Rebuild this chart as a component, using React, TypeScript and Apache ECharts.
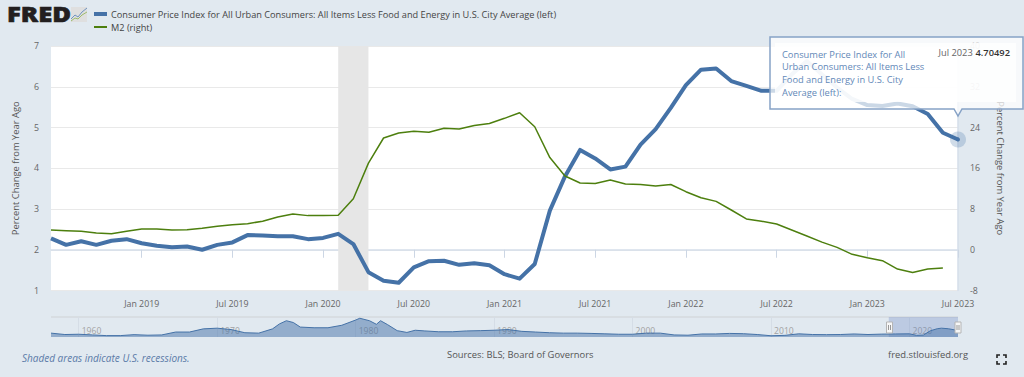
import React, { useEffect, useRef } from "react";
import * as echarts from "echarts";

const months = [
  "Jul 2018","Aug 2018","Sep 2018","Oct 2018","Nov 2018","Dec 2018",
  "Jan 2019","Feb 2019","Mar 2019","Apr 2019","May 2019","Jun 2019","Jul 2019","Aug 2019","Sep 2019","Oct 2019","Nov 2019","Dec 2019",
  "Jan 2020","Feb 2020","Mar 2020","Apr 2020","May 2020","Jun 2020","Jul 2020","Aug 2020","Sep 2020","Oct 2020","Nov 2020","Dec 2020",
  "Jan 2021","Feb 2021","Mar 2021","Apr 2021","May 2021","Jun 2021","Jul 2021","Aug 2021","Sep 2021","Oct 2021","Nov 2021","Dec 2021",
  "Jan 2022","Feb 2022","Mar 2022","Apr 2022","May 2022","Jun 2022","Jul 2022","Aug 2022","Sep 2022","Oct 2022","Nov 2022","Dec 2022",
  "Jan 2023","Feb 2023","Mar 2023","Apr 2023","May 2023","Jun 2023","Jul 2023",
];
const cpiValues = [
  2.28,2.12,2.21,2.12,2.22,2.26,
  2.16,2.10,2.06,2.08,2.00,2.12,2.18,2.36,2.35,2.33,2.33,2.26,
  2.29,2.39,2.14,1.45,1.24,1.19,1.57,1.72,1.73,1.63,1.67,1.62,
  1.40,1.29,1.65,2.96,3.80,4.45,4.24,3.97,4.04,4.58,4.96,5.48,
  6.04,6.42,6.45,6.14,6.02,5.90,5.90,6.30,6.63,6.30,5.98,5.70,
  5.55,5.53,5.59,5.52,5.33,4.87,4.70492,
];
const m2Values: (number | null)[] = [
  3.88,3.75,3.62,3.29,3.15,3.62,
  4.07,4.07,3.88,3.94,4.2,4.6,4.93,5.12,5.6,6.44,7.03,6.7,
  6.7,6.77,10.0,17.0,21.94,22.92,23.25,23.05,23.85,23.7,24.4,24.8,
  25.8,26.9,24.15,18.1,14.48,13.1,13.0,13.7,12.9,12.8,12.5,12.8,
  11.4,10.2,9.5,7.8,6.05,5.6,5.05,3.88,2.7,1.5,0.47,-0.9,
  -1.56,-2.15,-3.8,-4.45,-3.8,-3.6,null,
];
const navYears = [
  1958,1959,1960,1961,1962,1963,1964,1965,1966,1967,1968,1969,1970,1971,1972,1973,1974,1974.5,1975,1975.5,1976,1977,1978,1979,1980,1980.3,1981,1981.5,1981.8,1982.3,1983,1983.7,1984.3,1985,1986,1987,1988,1989,1990,
  1991,1992,1993,1994,1995,1996,1997,1998,1999,2000,2001,2002,2003,2004,2005,2006,2007,2008,2009,2010,2011,2012,2013,2014,2015,2016,2017,2018,2019,2020,2020.5,2021,2021.5,2022,2022.3,2022.8,2023.5,
];
const navValues = [
  2.8,1.8,2.0,1.5,1.0,1.0,1.7,1.3,1.5,3.6,3.6,5.9,6.4,5.4,3.1,2.8,5.9,9.5,11.8,10.5,7.2,6.7,6.7,8.5,12.3,13.6,11.8,9.2,11.8,9,4.6,3.3,4.9,4.4,3.8,3.8,4.4,4.6,4.9,
  5.4,4.1,3.6,3.1,2.8,2.8,2.6,2.3,2.0,2.0,2.8,2.8,1.5,1.3,2.2,2.2,2.6,2.4,1.8,0.9,1.2,2.3,1.8,1.7,1.8,2.2,1.8,2.1,2.2,2.3,1.2,1.4,4.5,6.0,6.4,6.0,4.7,
];
const navDecades = [1960, 1970, 1980, 1990, 2000, 2010, 2020];

const cpiName = "Consumer Price Index for All Urban Consumers: All Items Less Food and Energy in U.S. City Average (left)";
const m2Name = "M2 (right)";
const yAxisTitle = "Percent Change from Year Ago";
const tooltipSeries = "Consumer Price Index for All\nUrban Consumers: All Items Less\nFood and Energy in U.S. City\nAverage (left):";

const BG = "#e1e9f0";
const BLUE = "#4572a7";
const GREEN = "#4d7f0e";
const FONT = "'Open Sans', sans-serif";
const AXIS_TEXT = "#666666";

const handle = (x: number) => [
  { type: "rect", z: 50, shape: { x: x - 3, y: 322, width: 6, height: 11 }, style: { fill: "#f7f7f7", stroke: "#b5b5b5", lineWidth: 1 } },
  { type: "line", z: 51, shape: { x1: x - 1, y1: 325, x2: x - 1, y2: 330 }, style: { stroke: "#999", lineWidth: 1 } },
  { type: "line", z: 51, shape: { x1: x + 1, y1: 325, x2: x + 1, y2: 330 }, style: { stroke: "#999", lineWidth: 1 } },
];

const corner = (pts: number[][]) => ({ type: "polyline", z: 50, shape: { points: pts }, style: { stroke: "#222", lineWidth: 1.6, fill: "none" } });

export default function App() {
  const ref = useRef<HTMLDivElement>(null);
  useEffect(() => {
    const chart = echarts.init(ref.current!, undefined, { renderer: "svg" });
    const isTickMonth = (i: number, v: string) => i > 0 && (v.startsWith("Jan") || v.startsWith("Jul"));
    chart.setOption({
      animation: false,
      backgroundColor: BG,
      textStyle: { fontFamily: FONT },
      legend: [
        { data: [cpiName], left: 94, top: 9.5, itemWidth: 13, itemHeight: 4, icon: "rect", selectedMode: false, padding: 0,
          textStyle: { fontFamily: FONT, fontSize: 9.2, color: "#444", padding: [0, 0, 0, -1] } },
        { data: [m2Name], left: 94, top: 22.5, itemWidth: 13, itemHeight: 2, icon: "rect", selectedMode: false, padding: 0,
          textStyle: { fontFamily: FONT, fontSize: 9.2, color: "#444", padding: [0, 0, 0, -1] } },
      ],
      grid: [
        { left: 51, right: 66, top: 46, height: 244.5, show: true, backgroundColor: "#fff", borderWidth: 0 },
        { left: 51, right: 66, top: 317, height: 20, show: false },
      ],
      xAxis: [
        {
          type: "category", data: months, boundaryGap: false, gridIndex: 0,
          axisLine: { show: true, lineStyle: { color: "#d5deea", width: 1.5 } },
          axisTick: { show: true, length: 8, lineStyle: { color: "#ccd6e4" }, interval: isTickMonth },
          axisLabel: { interval: isTickMonth, color: AXIS_TEXT, fontSize: 8.8, margin: 9, fontFamily: FONT, hideOverlap: false },
          splitLine: { show: false },
        },
        {
          type: "value", gridIndex: 1, min: 1958, max: 2023.5, position: "bottom",
          axisLine: { show: false },
          axisTick: { show: true, inside: true, length: 20, customValues: navDecades, lineStyle: { color: "#d5dde6" } },
          axisLabel: { show: true, inside: true, margin: 2, customValues: navDecades, align: "left", padding: [0, 0, 0, 3],
            color: "#a3a3a3", fontSize: 8.6, fontFamily: FONT, formatter: (v: number) => String(v) },
          splitLine: { show: false },
        },
      ],
      yAxis: [
        {
          type: "value", min: 1, max: 7, interval: 1, gridIndex: 0,
          name: yAxisTitle, nameLocation: "middle", nameGap: 31, nameRotate: 90,
          nameTextStyle: { color: "#555", fontSize: 9.4, fontFamily: FONT },
          axisLine: { show: false }, axisTick: { show: false },
          axisLabel: { color: AXIS_TEXT, fontSize: 8.8, margin: 12, fontFamily: FONT },
          splitLine: { lineStyle: { color: "#e9e9e9", width: 1 } },
        },
        {
          type: "value", min: -8, max: 40, interval: 8, gridIndex: 0, position: "right",
          name: yAxisTitle, nameLocation: "middle", nameGap: 38, nameRotate: -90,
          nameTextStyle: { color: "#555", fontSize: 9.4, fontFamily: FONT },
          axisLine: { show: true, lineStyle: { color: "#d5deea", width: 1.5 } }, axisTick: { show: false },
          axisLabel: { color: AXIS_TEXT, fontSize: 8.8, margin: 12, fontFamily: FONT },
          splitLine: { show: false },
        },
        { type: "value", gridIndex: 1, min: 0, max: 14.5, show: false },
      ],
      series: [
        {
          name: cpiName, type: "line", data: cpiValues, xAxisIndex: 0, yAxisIndex: 0,
          showSymbol: false, symbol: "none", itemStyle: { color: BLUE },
          lineStyle: { color: BLUE, width: 4, join: "round" },
          markArea: { silent: true, z: 1, itemStyle: { color: "#e6e6e6" },
            data: [[{ xAxis: "Feb 2020" }, { xAxis: "Apr 2020" }]] },
          markPoint: {
            silent: true, label: { show: false },
            data: [
              { coord: [months[months.length - 1], cpiValues[cpiValues.length - 1]], symbol: "circle", symbolSize: 16, itemStyle: { color: BLUE, opacity: 0.25 } },
              { coord: [months[months.length - 1], cpiValues[cpiValues.length - 1]], symbol: "circle", symbolSize: 4, itemStyle: { color: BLUE } },
            ],
          },
        },
        {
          name: m2Name, type: "line", data: m2Values, xAxisIndex: 0, yAxisIndex: 1,
          showSymbol: false, symbol: "none", itemStyle: { color: GREEN },
          lineStyle: { color: GREEN, width: 1.5 },
        },
        {
          name: "nav", type: "line", data: navYears.map((y, i) => [y, navValues[i]]), xAxisIndex: 1, yAxisIndex: 2,
          showSymbol: false, symbol: "none", lineStyle: { color: BLUE, width: 1 },
          areaStyle: { color: BLUE, opacity: 0.5 },
          markArea: { silent: true, z: 1, itemStyle: { color: "rgba(102,133,194,0.3)" },
            data: [[{ xAxis: 2018.5 }, { xAxis: 2023.5 }]] },
        },
      ],
      graphic: [
        { type: "line", shape: { x1: 51, y1: 317, x2: 958, y2: 317 }, style: { stroke: "#cfd2d5", lineWidth: 1 } },
        ...handle(889.5),
        ...handle(958),
        // logo
        { type: "text", x: 7, y: 3.5, scaleX: 1.22, style: { text: "FRED", font: "800 21px 'Open Sans', sans-serif", fill: "#231f20", stroke: "#231f20", lineWidth: 0.6 } },
        { type: "rect", shape: { x: 71, y: 7, width: 16, height: 15 }, style: { fill: "#dfdfdf" } },
        { type: "polyline", shape: { points: [[71, 19], [75, 15], [78, 17], [82, 12], [87, 8]] }, style: { stroke: "#6f93c0", lineWidth: 1, fill: "none" } },
        { type: "polyline", shape: { points: [[71, 21], [75, 18], [78, 19], [82, 15], [87, 12]] }, style: { stroke: "#9dbb6d", lineWidth: 1, fill: "none" } },
        // footer
        { type: "text", x: 22, y: 353, style: { text: "Shaded areas indicate U.S. recessions.", font: "italic 10px 'Open Sans', sans-serif", fill: "#5b7ba8" } },
        { type: "text", x: 447, y: 349.5, style: { text: "Sources: BLS; Board of Governors", font: "9.4px 'Open Sans', sans-serif", fill: "#555" } },
        { type: "text", x: 888, y: 349.5, style: { text: "fred.stlouisfed.org", font: "9.4px 'Open Sans', sans-serif", fill: "#555" } },
        corner([[997, 358], [997, 355], [1000, 355]]),
        corner([[1003, 355], [1006, 355], [1006, 358]]),
        corner([[997, 361], [997, 364], [1000, 364]]),
        corner([[1003, 364], [1006, 364], [1006, 361]]),
        // tooltip
        { type: "polygon", z: 100,
          shape: { points: [[770, 37], [1023, 37], [1023, 109], [962, 109], [958, 116], [954, 109], [770, 109]] },
          style: { fill: "rgba(255,255,255,0.72)", stroke: "#86a2c6", lineWidth: 1.5 } },
        { type: "rect", z: 101, shape: { x: 775, y: 43, width: 241, height: 59 }, style: { fill: "rgba(255,255,255,0.78)" } },
        { type: "text", z: 102, x: 782, y: 48, style: { text: tooltipSeries, font: "9.3px 'Open Sans', sans-serif", lineHeight: 12.6, fill: "#6288b8" } },
        { type: "text", z: 102, x: 938.5, y: 48, style: { text: "Jul 2023", font: "9.3px 'Open Sans', sans-serif", fill: "#666" } },
        { type: "text", z: 102, x: 975.5, y: 48, style: { text: "4.70492", font: "600 9.3px 'Open Sans', sans-serif", fill: "#333" } },
      ],
    });
    return () => chart.dispose();
  }, []);
  return <div ref={ref} style={{ position: "fixed", left: 0, top: 0, width: 1024, height: 377 }} />;
}
